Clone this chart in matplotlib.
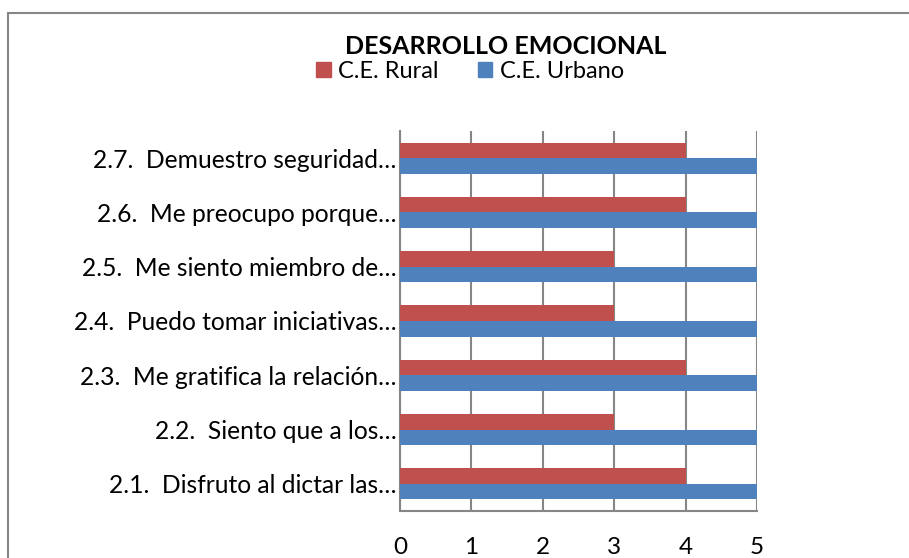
import matplotlib
matplotlib.use("Agg")
import matplotlib.pyplot as plt
from matplotlib.patches import Patch, Rectangle
import numpy as np

plt.rcParams['font.family'] = ['Lato', 'DejaVu Sans']

categories = [
    "2.1.  Disfruto al dictar las…",
    "2.2.  Siento que a los…",
    "2.3.  Me gratifica la relación…",
    "2.4.  Puedo tomar iniciativas…",
    "2.5.  Me siento miembro de…",
    "2.6.  Me preocupo porque…",
    "2.7.  Demuestro seguridad…",
]
rural = [4, 3, 4, 3, 3, 4, 4]
urbano = [5, 5, 5, 5, 5, 5, 5]
xticks = [0, 1, 2, 3, 4, 5]
title = "DESARROLLO EMOCIONAL"
series_names = ["C.E. Rural", "C.E. Urbano"]

RED = "#C0504D"
BLUE = "#4F81BD"
GRID = "#868686"

fig = plt.figure(figsize=(9.09, 5.58), dpi=100)
fig.patches.append(Rectangle((8/909, -0.1), 1.2, 1 - 13/558 + 0.1,
                             transform=fig.transFigure, fill=False,
                             edgecolor=GRID, linewidth=1.5, zorder=0))

ax = fig.add_axes([400/909, 1 - 511/558, 357/909, 380/558])
y = np.arange(len(categories))
h = 0.286
ax.barh(y + h/2, rural, height=h, color=RED, zorder=3)
ax.barh(y - h/2, urbano, height=h, color=BLUE, zorder=3)

ax.set_xlim(0, 5)
ax.set_ylim(-0.5, len(categories) - 0.5)
ax.set_xticks(xticks)
ax.set_xticklabels([str(t) for t in xticks], fontsize=17.5)
ax.set_yticks(y)
ax.set_yticklabels(categories, fontsize=17.7)
ax.tick_params(axis='x', length=0, pad=19)
ax.tick_params(axis='y', length=0, pad=2.5)
ax.xaxis.grid(True, color=GRID, linewidth=1.5, zorder=0)
ax.set_axisbelow(True)
for s in ['top', 'right']:
    ax.spines[s].set_visible(False)
for s in ['left', 'bottom']:
    ax.spines[s].set_color(GRID)
    ax.spines[s].set_linewidth(1.5)

fig.text(506/909, 1 - 46/558, title, fontsize=18, fontweight='bold',
         ha='center', va='center')
handles = [Patch(color=RED), Patch(color=BLUE)]
fig.legend(handles, series_names, loc='center', bbox_to_anchor=(470/909, 1 - 71/558),
           ncol=2, frameon=False, fontsize=17, handlelength=0.6, handleheight=0.6,
           handletextpad=0.3, columnspacing=1.7, borderpad=0, borderaxespad=0)

fig.savefig("out.png", dpi=100)
